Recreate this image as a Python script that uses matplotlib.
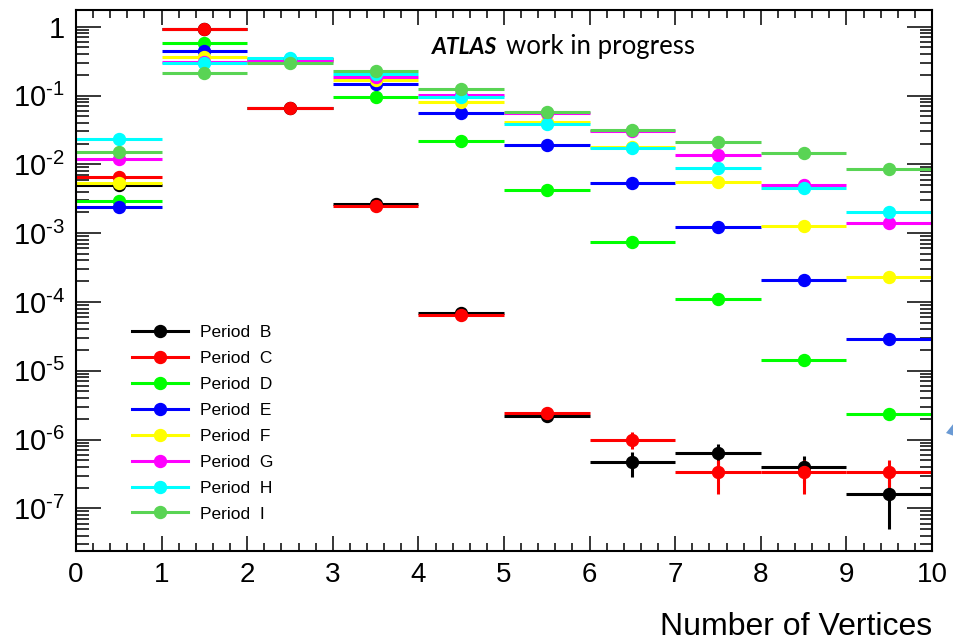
import numpy as np
import matplotlib
matplotlib.use("Agg")
import matplotlib.pyplot as plt
from matplotlib.lines import Line2D
from matplotlib.ticker import FixedLocator, FuncFormatter, LogLocator, MultipleLocator, NullFormatter
from matplotlib.patches import Polygon

plt.rcParams["font.family"] = ["Liberation Sans", "DejaVu Sans"]
plt.rcParams["mathtext.fontset"] = "custom"
plt.rcParams["mathtext.rm"] = "Liberation Sans"
plt.rcParams["mathtext.it"] = "Liberation Sans:italic"
plt.rcParams["mathtext.bf"] = "Liberation Sans:bold"

# Vertex-multiplicity fractions per data-taking period (bins 0..9)
n_vertices = np.arange(10) + 0.5
periods = ["B", "C", "D", "E", "F", "G", "H", "I"]

frac_B = [0.0050, 0.93, 0.066, 0.00265, 6.8e-5, 2.2e-6, 4.75e-7, 6.3e-7, 4.0e-7, 1.6e-7]
frac_C = [0.0066, 0.935, 0.0665, 0.0025, 6.45e-5, 2.4e-6, 1.0e-6, 3.33e-7, 3.33e-7, 3.33e-7]
frac_D = [0.0029, 0.585, 0.33, 0.094, 0.0218, 0.00423, 7.4e-4, 1.09e-4, 1.43e-5, 2.35e-6]
frac_E = [0.00242, 0.443, 0.34, 0.147, 0.0551, 0.019, 0.0054, 0.00121, 2.06e-4, 2.92e-5]
frac_F = [0.0053, 0.366, 0.33, 0.166, 0.081, 0.0407, 0.0178, 0.00553, 0.00128, 2.3e-4]
frac_G = [0.0119, 0.307, 0.32, 0.1876, 0.1016, 0.055, 0.0302, 0.0138, 0.00495, 0.00139]
frac_H = [0.0231, 0.297, 0.35, 0.205, 0.094, 0.0385, 0.0174, 0.0089, 0.00448, 0.00205]
frac_I = [0.0149, 0.212, 0.30, 0.229, 0.124, 0.058, 0.0315, 0.0213, 0.0146, 0.00855]

err_B = [0, 0, 0, 0, 0, 0, 1.9e-7, 2.2e-7, 1.7e-7, 1.1e-7]
err_C = [0, 0, 0, 0, 0, 0, 2.7e-7, 1.7e-7, 1.7e-7, 1.7e-7]

series = [frac_B, frac_C, frac_D, frac_E, frac_F, frac_G, frac_H, frac_I]
errors = [err_B, err_C, None, None, None, None, None, None]
colors = ["#000000", "#ff0000", "#00ff00", "#0000ff", "#ffff00", "#ff00ff", "#00ffff", "#59d454"]

W, H = 954, 643
fig = plt.figure(figsize=(W / 100, H / 100), dpi=100)
ax = fig.add_axes([76 / W, 1 - 551 / H, (932 - 76) / W, (551 - 9.5) / H])

lw = 2.2
ms = 8.6
for vals, err, col in zip(series, errors, colors):
    ax.errorbar(n_vertices, vals, xerr=0.5, yerr=err, fmt="o", color=col,
                ms=ms, mec=col, elinewidth=lw, capsize=0)

ax.set_yscale("log")
ax.set_xlim(0, 10)
ax.set_ylim(10 ** -7.62, 10 ** 0.25)

ax.xaxis.set_major_locator(MultipleLocator(1))
ax.xaxis.set_minor_locator(MultipleLocator(0.2))
ax.yaxis.set_major_locator(FixedLocator([10.0 ** k for k in range(-7, 1)]))
ax.yaxis.set_minor_locator(LogLocator(base=10, subs=np.arange(2, 10)))
ax.yaxis.set_minor_formatter(NullFormatter())


def ylab(v, pos):
    k = int(round(np.log10(v)))
    if k == 0:
        return "1"
    return r"$\mathregular{10^{\text{-}%d}}$" % (-k)


ax.yaxis.set_major_formatter(FuncFormatter(ylab))

ax.tick_params(which="both", direction="in", top=True, right=True, width=1.1)
ax.tick_params(axis="x", which="major", length=11, labelsize=20, pad=8)
ax.tick_params(axis="x", which="minor", length=5.5)
ax.tick_params(axis="y", which="major", length=18, labelsize=21, pad=8)
ax.tick_params(axis="y", which="minor", length=9)
for s in ax.spines.values():
    s.set_linewidth(1.5)

fig.text(932 / W, 1 - 635 / H, "Number of Vertices", ha="right", va="baseline", fontsize=23)

# Experiment tag
fig.text(432 / W, 1 - 54.3 / H, "ATLAS", family=["Lato", "DejaVu Sans"],
         fontweight="bold", fontstyle="italic", fontsize=16.5, va="baseline", ha="left")
fig.text(506 / W, 1 - 54.3 / H, "work in progress", family=["Lato", "DejaVu Sans"],
         fontsize=18.5, va="baseline", ha="left")

handles = [Line2D([], [], color=c, marker="o", lw=lw, ms=ms) for c in colors]
labels = ["Period  %s" % p for p in periods]
ax.legend(handles, labels, loc="upper left", bbox_to_anchor=(132 / W, 1 - 325 / H),
          bbox_transform=fig.transFigure, frameon=False, borderpad=0, borderaxespad=0,
          fontsize=12.5, handlelength=3.2, handletextpad=0.7, labelspacing=0.62,
          numpoints=1)

# slide arrow fragment at right edge
fig.patches.append(Polygon([[946 / W, 1 - 433 / H], [954 / W, 1 - 423 / H], [954 / W, 1 - 436 / H]],
                           closed=True, transform=fig.transFigure, facecolor="#6a9ad4",
                           edgecolor="none"))

fig.savefig("out.png", dpi=100)
